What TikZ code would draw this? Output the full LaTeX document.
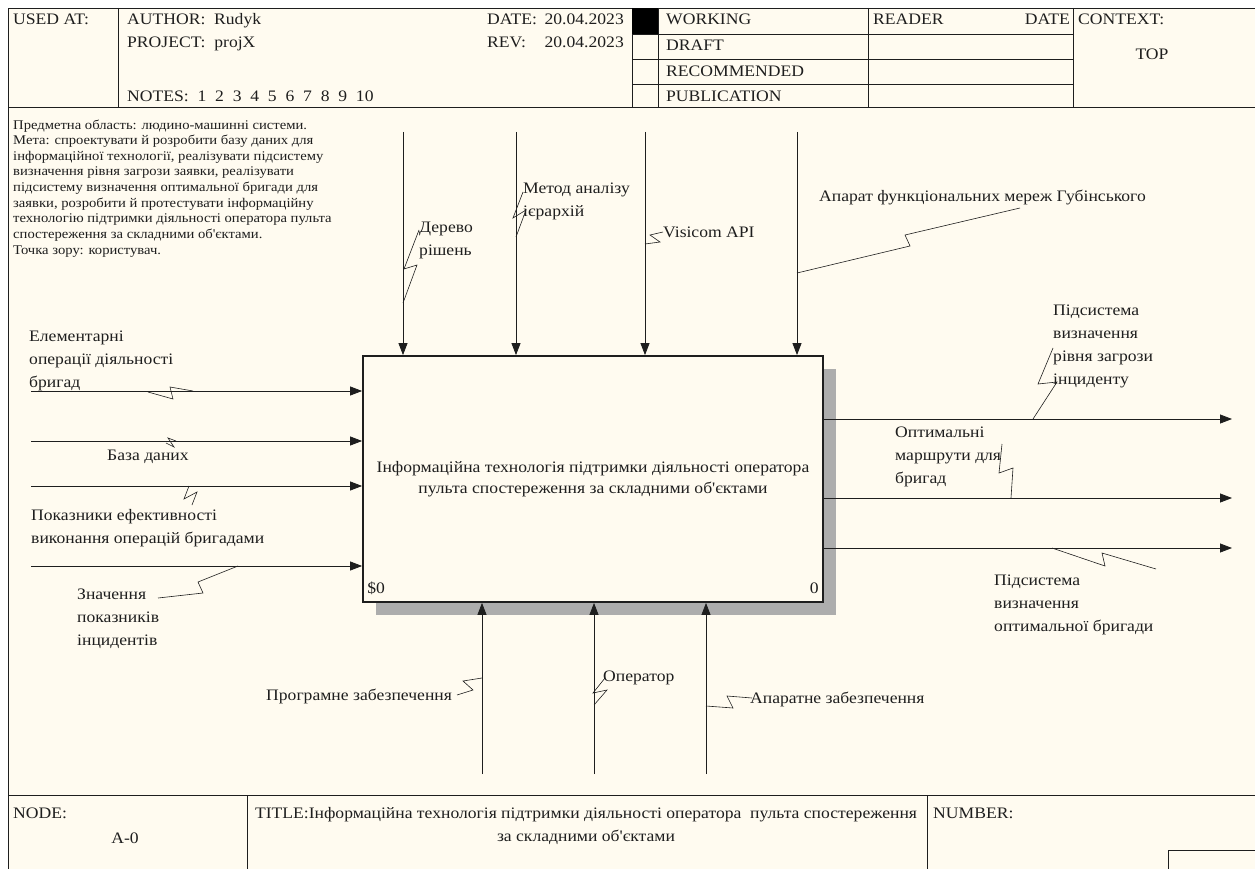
\documentclass[tikz,border=0pt]{standalone}
\usepackage{fontspec}
\setmainfont{Liberation Serif}[Ligatures=TeXOff]
\newfontfamily\widefont{Liberation Serif}[Ligatures=TeXOff, FakeStretch=1.1]
\usetikzlibrary{arrows.meta, shadows, calc}
\definecolor{paper}{RGB}{255,251,240}
\definecolor{ink}{RGB}{30,30,30}

\begin{document}
\begin{tikzpicture}[
  x=1pt, y=-1pt,
  font=\widefont\fontsize{16}{23}\selectfont,
  txt/.style={anchor=base west, inner sep=0pt, align=left, text=ink},
  note/.style={anchor=base west, inner sep=0pt, align=left, text=ink, font=\widefont\fontsize{13.3}{15.6}\selectfont},
  rule/.style={line width=0.9pt, draw=ink},
  arr/.style={-{Triangle[length=12pt, width=9pt]}, line width=0.8pt, draw=ink},
  squig/.style={line width=0.6pt, draw=ink},
  func/.style={draw=ink, line width=1.8pt, fill=paper, minimum width=460pt, minimum height=246pt,
    align=center, inner sep=0pt, text=ink,
    drop shadow={shadow xshift=13pt, shadow yshift=-13pt, opacity=1, fill=black!32}}
]
\useasboundingbox (0,0) rectangle (1255,869);
\clip (0,0) rectangle (1255,869);
\fill[white] (0,0) rectangle (1255,869);
\draw[rule, fill=paper] (8,8) rectangle (1275,885);

% header
\draw[rule] (8,107) -- (1275,107);
\draw[rule] (118,8) -- (118,107);
\draw[rule] (632,8) -- (632,107);
\draw[rule] (658,8) -- (658,107);
\draw[rule] (868,8) -- (868,107);
\draw[rule] (1073,8) -- (1073,107);
\foreach \yy in {34,59,84}
  \draw[rule] (632,\yy) -- (1073,\yy);
\fill[black] (632,8) rectangle (658,34);

\node[txt] (usedat) at (13,25) {USED AT:};
\node[txt] (author) at (127,25) {AUTHOR:\ \ Rudyk};
\node[txt] (project) at (127,48) {PROJECT:\ \ projX};
\node[txt] (notes) at (127,102) {NOTES:\ \ 1\ \ 2\ \ 3\ \ 4\ \ 5\ \ 6\ \ 7\ \ 8\ \ 9\ \ 10};
\node[txt] (date) at (487,25) {DATE:};
\node[txt, anchor=base east] (dateval) at (624,25) {20.04.2023};
\node[txt] (rev) at (487,48) {REV:};
\node[txt, anchor=base east] (revval) at (624,48) {20.04.2023};
\node[txt] (working) at (666,25) {WORKING};
\node[txt] (draft) at (666,51) {DRAFT};
\node[txt] (recom) at (666,77) {RECOMMENDED};
\node[txt] (publ) at (666,102) {PUBLICATION};
\node[txt] (reader) at (873,25) {READER};
\node[txt, anchor=base east] (rdate) at (1070,25) {DATE};
\node[txt] (context) at (1078,25) {CONTEXT:};
\node[txt, anchor=base] (top) at (1152,60) {TOP};

% footer
\draw[rule] (8,795) -- (1275,795);
\draw[rule] (247,795) -- (247,885);
\draw[rule] (927,795) -- (927,885);
\draw[rule] (1168,885) -- (1168,850) -- (1275,850);
\node[txt] (nodelbl) at (13,818) {NODE:};
\node[txt, anchor=base] (nodeval) at (125,843) {A-0};
\node[txt, anchor=base, align=center] (title) at (586,841)
  {TITLE:Інформаційна технологія підтримки діяльності оператора\ \ пульта спостереження\\за складними об'єктами};
\node[txt] (number) at (933,818) {NUMBER:};

% purpose
\node[note] (purpose) at (13,254) {Предметна область: людино-машинні системи.\\
Мета: спроектувати й розробити базу даних для\\
інформаційної технології, реалізувати підсистему\\
визначення рівня загрози заявки, реалізувати\\
підсистему визначення оптимальної бригади для\\
заявки, розробити й протестувати інформаційну\\
технологію підтримки діяльності оператора пульта\\
спостереження за складними об'єктами.\\
Точка зору: користувач.};

% function box
\node[func] (box) at (593,479) {Інформаційна технологія підтримки діяльності оператора\\[-2pt]
пульта спостереження за складними об'єктами};
\node[txt, anchor=base west] (dnum) at ([shift={(5,-9)}]box.south west) {\$0};
\node[txt, anchor=base east] (bnum) at ([shift={(-5,-9)}]box.south east) {0};

% inputs
\coordinate (in1) at (31,391);
\coordinate (in2) at (31,441);
\coordinate (in3) at (31,486);
\coordinate (in4) at (31,566);
\foreach \c in {in1,in2,in3,in4}
  \draw[arr] (\c) -- (\c -| box.west);
\node[txt] (elem) at (29,387) {Елементарні\\операції діяльності\\бригад};
\node[txt] (db) at (107,460) {База даних};
\node[txt] (perf) at (31,543) {Показники ефективності\\виконання операцій бригадами};
\node[txt] (incid) at (77,645) {Значення\\показників\\інцидентів};
\draw[squig] (193,391) -- (170,387) -- (173,399) -- (148,392);
\draw[squig] (176,441) -- (168,438) -- (174,447) -- (166,443);
\draw[squig] (189,486) -- (184,499) -- (197,492) -- (192,505);
\draw[squig] (238,566) -- (198,582) -- (203,593) -- (158,598);

% controls
\coordinate (ct1) at (403,132);
\coordinate (ct2) at (516,132);
\coordinate (ct3) at (645,132);
\coordinate (ct4) at (797,132);
\foreach \c in {ct1,ct2,ct3,ct4}
  \draw[arr] (\c) -- (\c |- box.north);
\node[txt] (tree) at (419,255) {Дерево\\рішень};
\node[txt] (ahp) at (523,217) {Метод аналізу\\ієрархій};
\node[txt] (visicom) at (663,237) {Visicom API};
\node[txt] (gubin) at (819,201) {Апарат функціональних мереж Губінського};
\draw[squig] (403,303) -- (417,265) -- (404,269) -- (419,230);
\draw[squig] (516,237) -- (526,210) -- (513,218) -- (523,192);
\draw[squig] (645,244) -- (660,242) -- (650,235) -- (663,232);
\draw[squig] (797,273) -- (910,246) -- (905,235) -- (1020,208);

% outputs
\coordinate (out1) at (1232,419);
\coordinate (out2) at (1232,498);
\coordinate (out3) at (1232,548);
\foreach \c in {out1,out2,out3}
  \draw[arr] (\c -| box.east) -- (\c);
\node[txt] (threat) at (1053,384) {Підсистема\\визначення\\рівня загрози\\інциденту};
\node[txt] (routes) at (895,483) {Оптимальні\\маршрути для\\бригад};
\node[txt] (brigade) at (994,631) {Підсистема\\визначення\\оптимальної бригади};
\draw[squig] (1033,419) -- (1057,382) -- (1038,384) -- (1053,348);
\draw[squig] (1011,498) -- (1013,468) -- (999,473) -- (1002,444);
\draw[squig] (1052,548) -- (1105,566) -- (1102,553) -- (1156,569);

% mechanisms
\coordinate (mc1) at (482,774);
\coordinate (mc2) at (594,774);
\coordinate (mc3) at (706,774);
\foreach \c in {mc1,mc2,mc3}
  \draw[arr] (\c) -- (\c |- box.south);
\node[txt] (soft) at (266,700) {Програмне забезпечення};
\node[txt] (oper) at (603,681) {Оператор};
\node[txt] (hard) at (750,703) {Апаратне забезпечення};
\draw[squig] (482,678) -- (463,681) -- (473,690) -- (457,695);
\draw[squig] (594,705) -- (607,690) -- (593,693) -- (605,678);
\draw[squig] (706,706) -- (733,708) -- (727,696) -- (752,698);
\end{tikzpicture}
\end{document}
